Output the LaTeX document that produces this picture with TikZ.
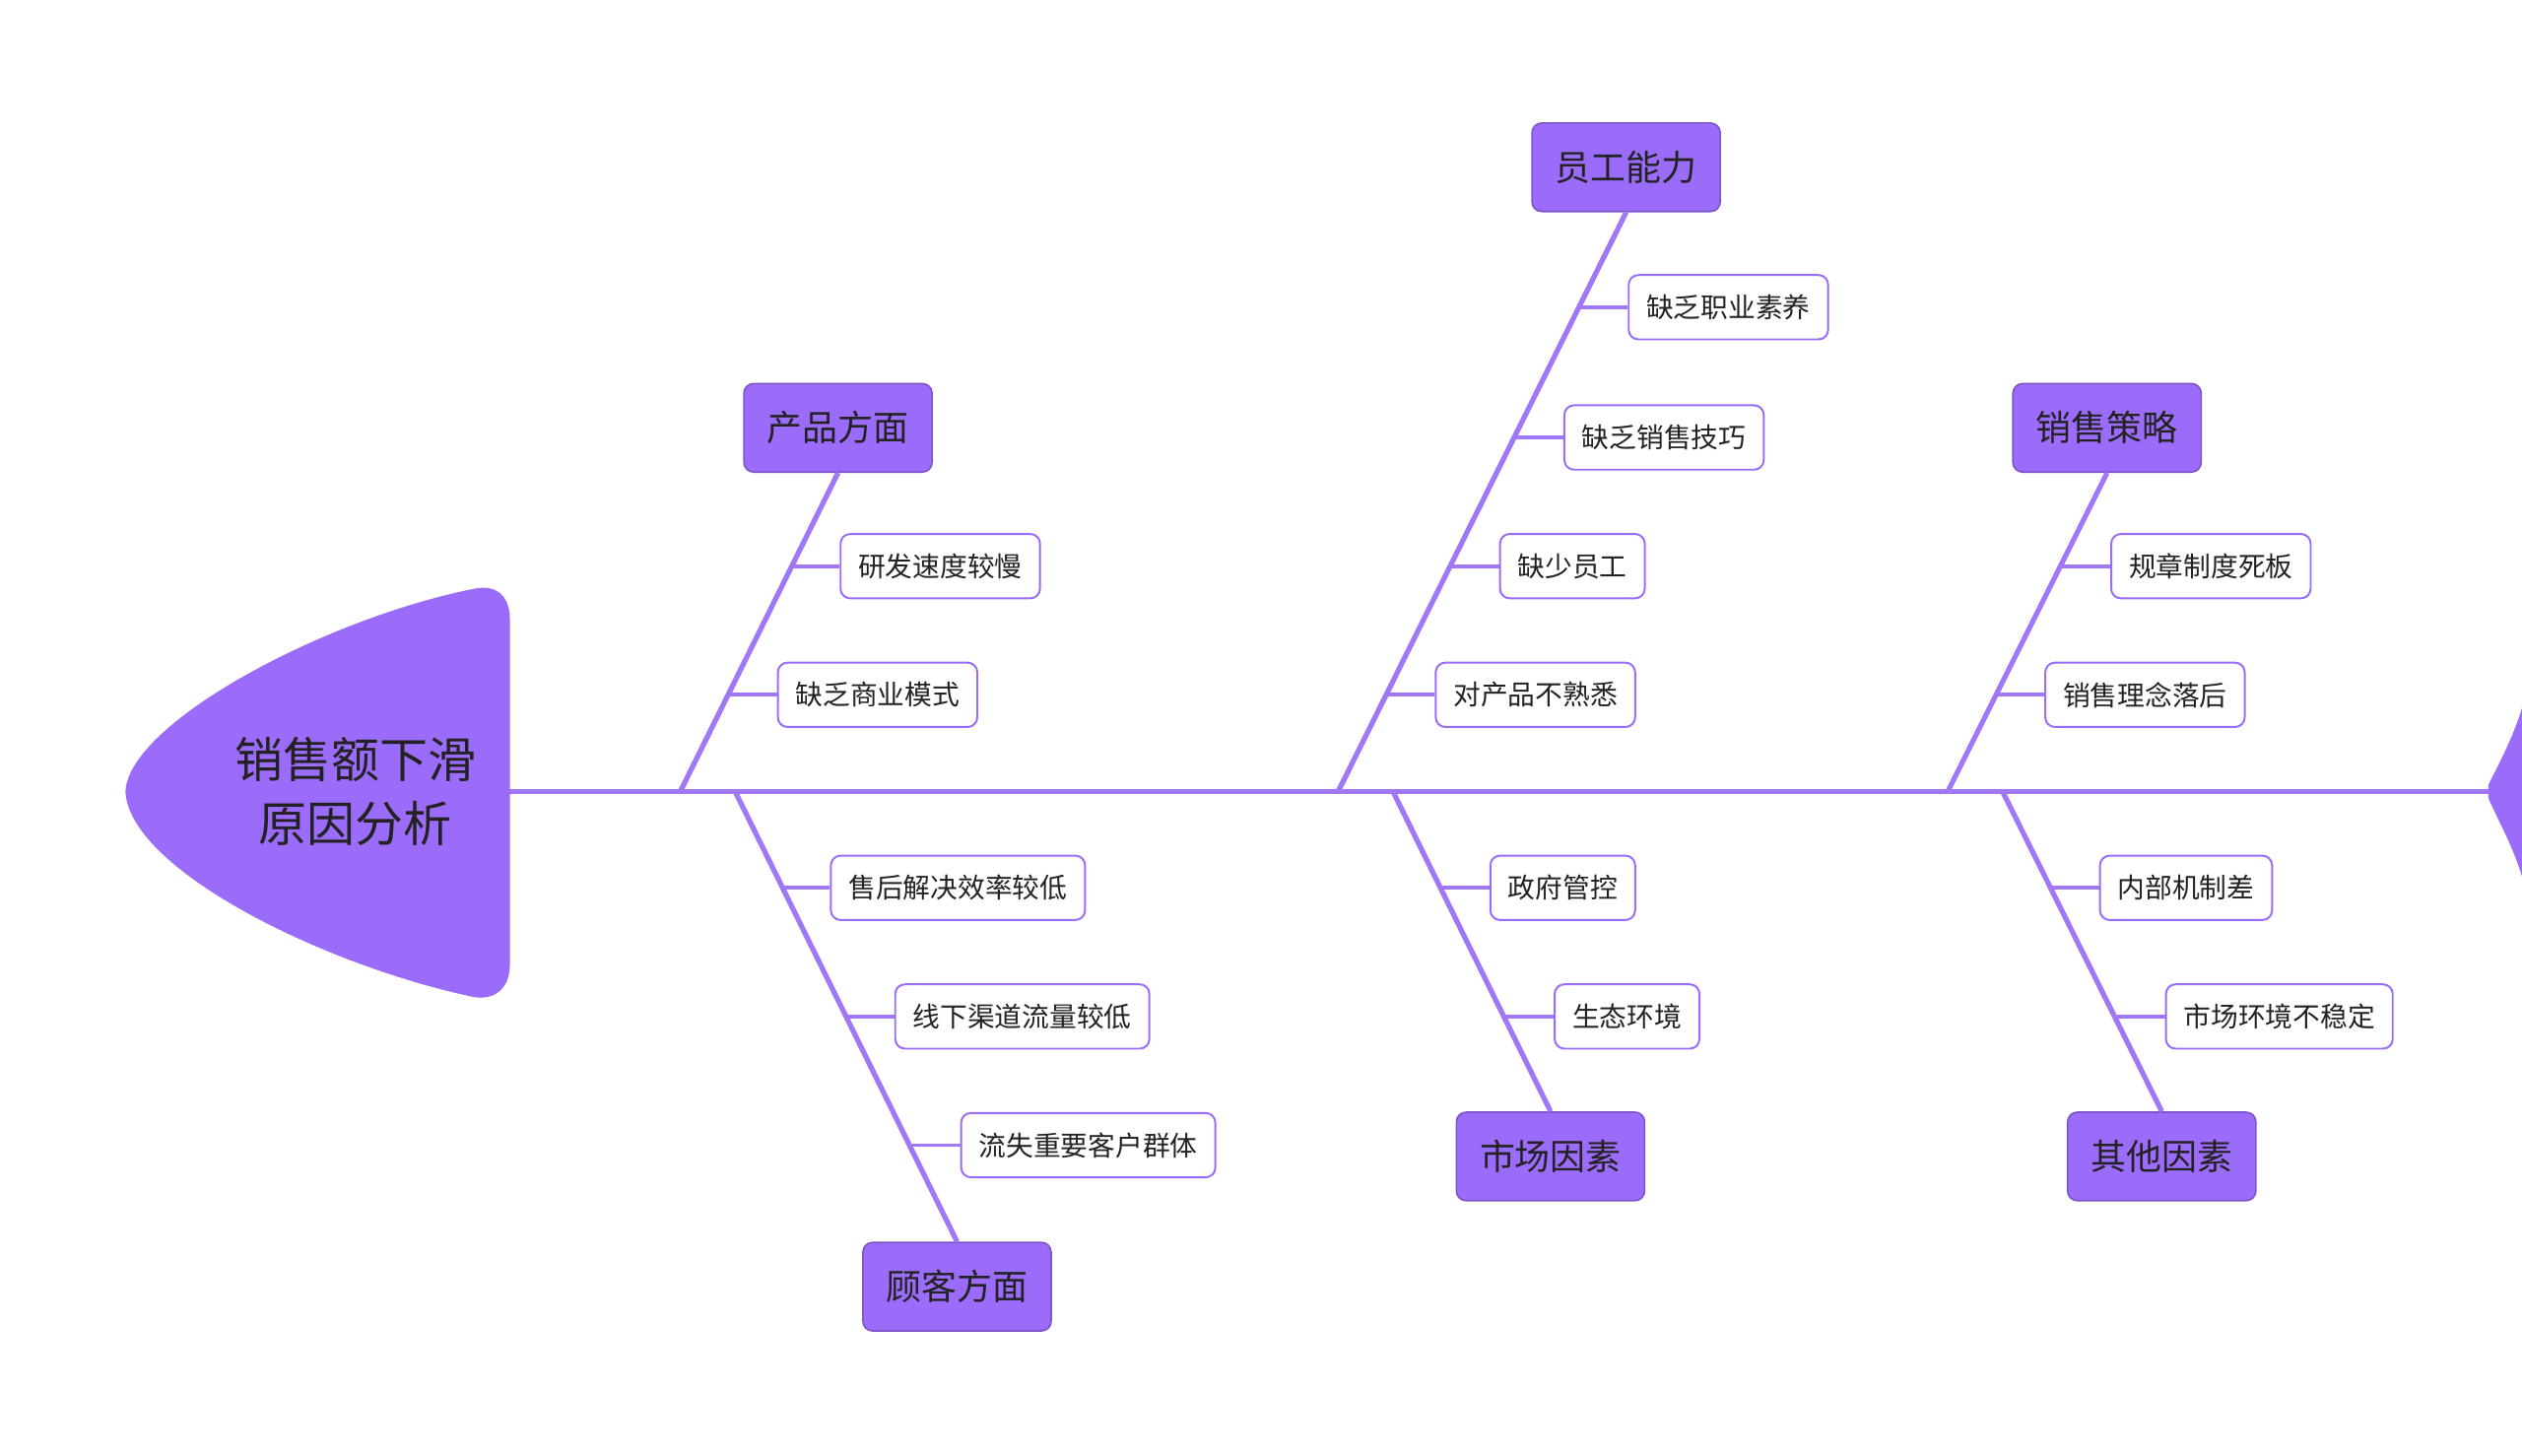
\documentclass[tikz,border=0pt]{standalone}
\usepackage{fontspec}
\newfontfamily\cjk{Noto Sans CJK SC}
\definecolor{pf}{HTML}{9B6BFA}
\definecolor{pl}{HTML}{A077F5}
\definecolor{tx}{HTML}{222222}
\begin{document}
\begin{tikzpicture}[x=0.5pt,y=-0.5pt,
 mainbox/.style={fill=pf,draw=pf!80!black,line width=0.5pt,rounded corners=3pt,minimum width=58.5pt,minimum height=27.5pt,font=\cjk\fontsize{11}{13}\selectfont,text=tx},
 subbox/.style={fill=white,draw=pf,line width=0.6pt,rounded corners=3pt,minimum height=20pt,inner xsep=5.5pt,font=\cjk\fontsize{8.5}{10}\selectfont,text=tx},
 bone/.style={draw=pl,line width=1.6pt},
 tick/.style={draw=pl,line width=1.2pt}]
\useasboundingbox (0,0) rectangle (1568,905);
% spine
\coordinate (s0) at (315,492);
\coordinate (s1) at (1568,492);
\draw[bone] (s0) -- (s1);
% head
\fill[pf] (295,366) .. controls (200,385) and (80,450) .. (78,492) .. controls (80,540) and (200,600) .. (295,620) .. controls (310,622) and (317,612) .. (317,600) -- (317,385) .. controls (317,372) and (310,363) .. (295,366) -- cycle;
\node[font=\cjk\fontsize{15}{20}\selectfont,text=tx,align=center] (head) at (221,492) {销售额下滑\\原因分析};
% tail
\fill[pf] (1568,440) .. controls (1562,460) and (1552,478) .. (1547,488) -- (1547,496) .. controls (1552,508) and (1562,525) .. (1568,545) -- cycle;
% upper branches
\node[mainbox] (cp) at (521,266) {产品方面};
\coordinate (cpb) at (423,492);
\draw[bone] (cp.south) -- (cpb);
\node[subbox,anchor=west] (a1) at (522,352) {研发速度较慢};
\node[subbox,anchor=west] (a2) at (483,432) {缺乏商业模式};
\draw[tick] (a1.west) -- ++(-30,0); \draw[tick] (a2.west) -- ++(-30,0);

\node[mainbox] (yg) at (1011,104) {员工能力};
\coordinate (ygb) at (832,492);
\draw[bone] (yg.south) -- (ygb);
\node[subbox,anchor=west] (b1) at (1012,191) {缺乏职业素养};
\node[subbox,anchor=west] (b2) at (972,272) {缺乏销售技巧};
\node[subbox,anchor=west] (b3) at (932,352) {缺少员工};
\node[subbox,anchor=west] (b4) at (892,432) {对产品不熟悉};
\foreach \n in {b1,b2,b3,b4}{\draw[tick] (\n.west) -- ++(-30,0);}

\node[mainbox] (xs) at (1310,266) {销售策略};
\coordinate (xsb) at (1211,492);
\draw[bone] (xs.south) -- (xsb);
\node[subbox,anchor=west] (c1) at (1312,352) {规章制度死板};
\node[subbox,anchor=west] (c2) at (1271,432) {销售理念落后};
\foreach \n in {c1,c2}{\draw[tick] (\n.west) -- ++(-30,0);}
% lower branches
\node[mainbox] (gk) at (595,800) {顾客方面};
\coordinate (gkb) at (457,492);
\draw[bone] (gkb) -- (gk.north);
\node[subbox,anchor=west] (d1) at (516,552) {售后解决效率较低};
\node[subbox,anchor=west] (d2) at (556,632) {线下渠道流量较低};
\node[subbox,anchor=west] (d3) at (597,712) {流失重要客户群体};
\foreach \n in {d1,d2,d3}{\draw[tick] (\n.west) -- ++(-30,0);}

\node[mainbox] (sc) at (964,719) {市场因素};
\coordinate (scb) at (866,492);
\draw[bone] (scb) -- (sc.north);
\node[subbox,anchor=west] (e1) at (926,552) {政府管控};
\node[subbox,anchor=west] (e2) at (966,632) {生态环境};
\foreach \n in {e1,e2}{\draw[tick] (\n.west) -- ++(-30,0);}

\node[mainbox] (qt) at (1344,719) {其他因素};
\coordinate (qtb) at (1245,492);
\draw[bone] (qtb) -- (qt.north);
\node[subbox,anchor=west] (f1) at (1305,552) {内部机制差};
\node[subbox,anchor=west] (f2) at (1346,632) {市场环境不稳定};
\foreach \n in {f1,f2}{\draw[tick] (\n.west) -- ++(-30,0);}
\end{tikzpicture}
\end{document}
